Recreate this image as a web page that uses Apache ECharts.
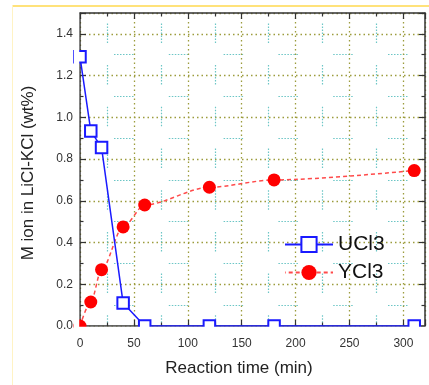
<!DOCTYPE html>
<html>
<head>
<meta charset="utf-8">
<script src="https://cdn.jsdelivr.net/npm/echarts@6/dist/echarts.min.js"></script>
<style>
html,body{margin:0;padding:0;background:#fff;}
#chart{width:429px;height:385px;}
</style>
</head>
<body>
<div id="chart"></div>
<script>
const timeU = [0, 10, 20, 40, 60, 120, 180, 310];
const valuesU = [1.29, 0.935, 0.855, 0.11, 0, 0, 0, 0];
const timeY = [0, 10, 20, 40, 60, 120, 180, 310];
const valuesY = [0, 0.115, 0.27, 0.475, 0.58, 0.665, 0.70, 0.745];
const seriesNames = ['UCl3', 'YCl3'];
const xTitle = 'Reaction time (min)';
const yTitle = 'M ion in LiCl-KCl (wt%)';

const FONT = '"Liberation Sans", Arial, sans-serif';
const axisColor = '#333';
const olive = '#9c9c3c';
const cyan = '#6cc6c6';

function dots(n, gap) {
  const a = [];
  for (let i = 0; i < n; i++) { a.push(1.5); a.push(i === n - 1 ? gap : 1.5); }
  return a;
}

const chart = echarts.init(document.getElementById('chart'), null, {renderer: 'canvas'});

const gridL = 80, gridT = 13, gridR = 4, gridB = 59;

const baseX = {
  type: 'value', min: 0, max: 320, interval: 50
};
const baseY = {
  type: 'value', min: 0, max: 1.5, interval: 0.2
};

chart.setOption({
  animation: false,
  backgroundColor: '#fff',
  textStyle: {fontFamily: FONT},
  grid: {left: gridL, top: gridT, right: gridR, bottom: gridB, containLabel: false},
  legend: {
    orient: 'vertical',
    left: 284, top: 234, padding: 0,
    itemWidth: 48, itemHeight: 19, itemGap: 7,
    data: seriesNames,
    textStyle: {fontSize: 21, color: '#111', fontFamily: FONT}
  },
  xAxis: [
    Object.assign({}, baseX, {
      position: 'bottom',
      name: xTitle, nameLocation: 'middle', nameGap: 34,
      nameTextStyle: {fontSize: 17, color: '#222', fontFamily: FONT, padding: [0, 27, 0, 0]},
      axisLine: {show: true, onZero: false, lineStyle: {color: axisColor, width: 1.5}},
      axisTick: {show: true, inside: true, length: 6, lineStyle: {color: axisColor, width: 1.2}},
      minorTick: {show: true, splitNumber: 2, length: 3.5, lineStyle: {color: axisColor, width: 1.2}},
      axisLabel: {show: true, fontSize: 12, color: '#333', margin: 12, showMaxLabel: false, fontFamily: FONT},
      splitLine: {show: true, lineStyle: {color: olive, width: 1.3, type: [1.5, 3]}},
      minorSplitLine: {show: true, lineStyle: {color: cyan, width: 1.2, type: dots(7, 22.2), dashOffset: 31.3}}
    }),
    Object.assign({}, baseX, {
      position: 'top',
      axisLine: {show: true, onZero: false, lineStyle: {color: axisColor, width: 1.5}},
      axisTick: {show: true, inside: true, length: 6, lineStyle: {color: axisColor, width: 1.2}},
      minorTick: {show: true, splitNumber: 2, length: 3.5, lineStyle: {color: axisColor, width: 1.2}},
      axisLabel: {show: false},
      splitLine: {show: false}
    })
  ],
  yAxis: [
    Object.assign({}, baseY, {
      position: 'left',
      name: yTitle, nameLocation: 'middle', nameGap: 43, nameRotate: 90,
      nameTextStyle: {fontSize: 17, color: '#222', fontFamily: FONT, padding: [0, 7, 0, 0]},
      axisLine: {show: true, onZero: false, lineStyle: {color: axisColor, width: 1.5}},
      axisTick: {show: true, inside: true, length: 6, lineStyle: {color: axisColor, width: 1.2}},
      minorTick: {show: true, splitNumber: 2, length: 3.5, lineStyle: {color: axisColor, width: 1.2}},
      axisLabel: {show: true, fontSize: 12, color: '#333', margin: 7, showMaxLabel: false, fontFamily: FONT,
        formatter: v => v.toFixed(1)},
      splitLine: {show: true, lineStyle: {color: olive, width: 1.3, type: [1.5, 3]}},
      minorSplitLine: {show: true, lineStyle: {color: cyan, width: 1.2, type: dots(7, 35.3), dashOffset: 20.8}}
    }),
    Object.assign({}, baseY, {
      position: 'right',
      axisLine: {show: true, onZero: false, lineStyle: {color: axisColor, width: 1.5}},
      axisTick: {show: true, inside: true, length: 6, lineStyle: {color: axisColor, width: 1.2}},
      minorTick: {show: true, splitNumber: 2, length: 3.5, lineStyle: {color: axisColor, width: 1.2}},
      axisLabel: {show: false},
      splitLine: {show: false}
    })
  ],
  series: [
    {
      name: seriesNames[1], type: 'line', xAxisIndex: 0, yAxisIndex: 0,
      data: timeY.map((t, i) => [t, valuesY[i]]),
      symbol: 'circle', symbolSize: 13,
      smooth: 0.3, smoothMonotone: 'x',
      lineStyle: {color: '#ff4a4a', width: 1.5, type: [4, 3]},
      itemStyle: {color: '#ff0000'},
      z: 2
    },
    {
      name: seriesNames[0], type: 'line', xAxisIndex: 0, yAxisIndex: 0,
      data: timeU.map((t, i) => [t, valuesU[i]]),
      symbol: 'emptyRect', symbolSize: 11.5,
      lineStyle: {color: '#1a1aff', width: 1.5},
      itemStyle: {color: '#1a1aff', borderColor: '#1a1aff', borderWidth: 1.5},
      z: 3
    }
  ],
  graphic: [
    {type: 'rect', z: 50, silent: true, shape: {x: 74, y: 0, width: 5.2, height: 334}, style: {fill: '#fff'}},
    {type: 'rect', z: 50, silent: true, shape: {x: 74, y: 326.8, width: 355, height: 8}, style: {fill: '#fff'}},
    {type: 'line', z: 60, silent: true, shape: {x1: 12.5, y1: 6, x2: 429, y2: 6}, style: {stroke: '#ffe27a', lineWidth: 2}},
    {type: 'line', z: 60, silent: true, shape: {x1: 12.5, y1: 6, x2: 12.5, y2: 385}, style: {stroke: '#fff3c4', lineWidth: 1}}
  ]
});
</script>
</body>
</html>
